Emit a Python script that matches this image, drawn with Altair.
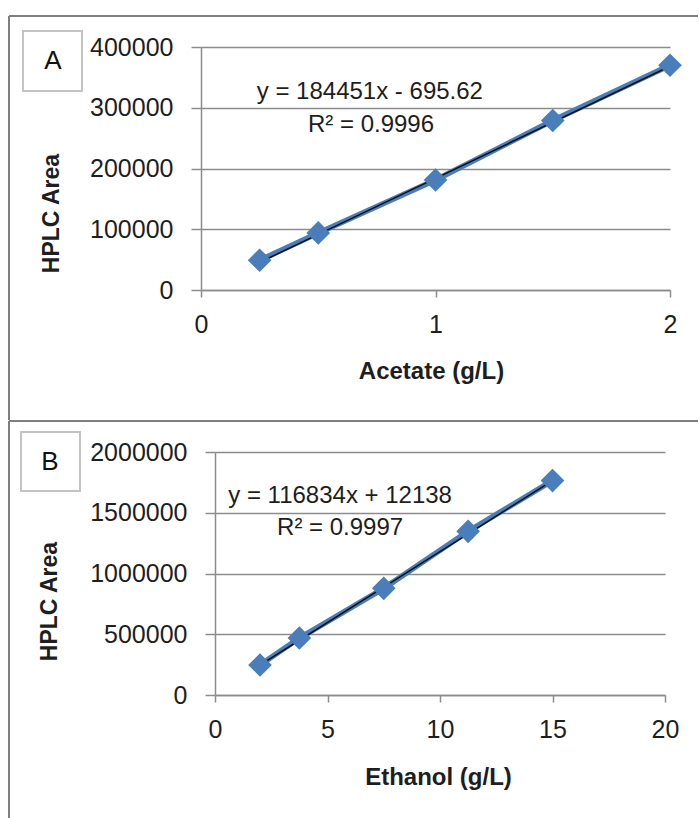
import altair as alt
import pandas as pd

# ---- calibration data -------------------------------------------------------
acetate_conc = [0.25, 0.5, 1.0, 1.5, 2.0]
acetate_area = [49000, 94000, 181000, 279000, 370000]
acetate_slope, acetate_intercept = 184451, -695.62
acetate_text = ["y = 184451x - 695.62", "R\u00b2 = 0.9996"]

ethanol_conc = [2.0, 3.75, 7.5, 11.25, 15.0]
ethanol_area = [247000, 469000, 878000, 1347000, 1765000]
ethanol_slope, ethanol_intercept = 116834, 12138
ethanol_text = ["y = 116834x + 12138", "R\u00b2 = 0.9997"]

acetate_xticks = [0, 1, 2]
acetate_yticks = [0, 100000, 200000, 300000, 400000]
ethanol_xticks = [0, 5, 10, 15, 20]
ethanol_yticks = [0, 500000, 1000000, 1500000, 2000000]

FONT = "Liberation Sans"
BLUE = "#4A7EBB"
GRID = "#8C8C8C"
FRAME = "#7F7F7F"
INK = "#1E1E1E"
PLAIN = "format(datum.value, 'd')"


def panel(letter, conc, area, slope, intercept, eq_text, eq_x, eq_y,
          x_title, x_max, x_ticks, y_max, y_ticks, width, height, x_start,
          y_title_x, y_title_y, x_title_x, x_title_y,
          frame_left, frame_top, frame_right, frame_bottom,
          box, letter_xy):
    pts = pd.DataFrame({"conc": conc, "area": area})
    pts["fit"] = [slope * c + intercept for c in conc]
    ann = pd.DataFrame({"conc": eq_x, "area": eq_y, "label": eq_text})
    one = pd.DataFrame({"k": [0]})

    # the plot region may start a little to the right of the panel origin
    xs = alt.Scale(domain=[0, x_max], range=[x_start, width], nice=False, zero=True)
    ys = alt.Scale(domain=[0, y_max], nice=False, zero=True)

    x_axis = alt.Axis(
        values=x_ticks, labelExpr=PLAIN, grid=False,
        domainColor=GRID, domainWidth=1.5, tickColor=GRID, tickWidth=1.5,
        tickSize=7, labelFont=FONT, labelFontSize=25, labelColor=INK,
        labelPadding=15, labelFlush=False, labelOverlap=False,
        title=x_title, titleFont=FONT, titleFontSize=24,
        titleFontWeight="bold", titleColor=INK, titleX=x_title_x,
        titleY=x_title_y, titleBaseline="alphabetic", titleAlign="center",
    )
    y_axis = alt.Axis(
        values=y_ticks, labelExpr=PLAIN, grid=True,
        gridColor=GRID, gridWidth=1.5, domainColor=GRID, domainWidth=1.5,
        tickColor=GRID, tickWidth=1.5, tickSize=10, offset=-x_start,
        labelFont=FONT, labelFontSize=25, labelColor=INK, labelPadding=18,
        labelOverlap=False, title="HPLC Area", titleFont=FONT,
        titleFontSize=23, titleFontWeight="bold", titleColor=INK,
        titleAngle=270, titleX=y_title_x, titleY=y_title_y,
        titleBaseline="alphabetic", titleAlign="center",
    )

    base = alt.Chart(pts)
    series = base.mark_line(color=BLUE, strokeWidth=5.5).encode(
        x=alt.X("conc:Q", scale=xs, axis=x_axis),
        y=alt.Y("area:Q", scale=ys, axis=y_axis),
    )
    markers = base.mark_point(
        shape="diamond", filled=True, size=560, color=BLUE, opacity=1
    ).encode(x="conc:Q", y="area:Q")
    trend = base.mark_line(color="#111111", strokeWidth=1.6).encode(
        x="conc:Q", y="fit:Q"
    )
    eq = alt.Chart(ann).mark_text(
        font=FONT, fontSize=24, color=INK, align="center", baseline="middle"
    ).encode(x="conc:Q", y="area:Q", text="label:N")

    frame_style = dict(color=FRAME, strokeWidth=2)
    deco = alt.Chart(one)
    top_line = deco.mark_rule(**frame_style).encode(
        x=alt.value(frame_left), x2=alt.value(frame_right),
        y=alt.value(frame_top))
    left_line = deco.mark_rule(**frame_style).encode(
        x=alt.value(frame_left), y=alt.value(frame_top),
        y2=alt.value(frame_bottom))
    letter_box = deco.mark_rect(
        fill="white", stroke="#C3C3C3", strokeWidth=2
    ).encode(x=alt.value(box[0]), x2=alt.value(box[1]),
             y=alt.value(box[2]), y2=alt.value(box[3]))
    letter_mark = deco.mark_text(
        text=letter, font=FONT, fontSize=26, color="#111111",
        align="center", baseline="middle"
    ).encode(x=alt.value(letter_xy[0]), y=alt.value(letter_xy[1]))

    return alt.layer(
        top_line, left_line, letter_box, letter_mark,
        series, trend, markers, eq
    ).properties(width=width, height=height)


panel_a = panel(
    "A", acetate_conc, acetate_area, acetate_slope, acetate_intercept,
    acetate_text, [0.72, 0.725], [326000, 271600],
    "Acetate (g/L)", 2, acetate_xticks, 400000, acetate_yticks, 469, 243, 0,
    -143, 166, 230, 88,
    -192, -31, 497, 373,
    (-178, -119, -16, 44), (-148, 14),
)

panel_b = panel(
    "B", ethanol_conc, ethanol_area, ethanol_slope, ethanol_intercept,
    ethanol_text, [5.56, 5.56], [1638000, 1374000],
    "Ethanol (g/L)", 20, ethanol_xticks, 2000000, ethanol_yticks, 464, 243, 14,
    -159, 149, 237, 89,
    -192, -31, 497, 366,
    (-180, -121, -20, 39), (-151, 10),
)

chart = alt.vconcat(panel_a, panel_b, spacing=-1).properties(
    padding={"left": 8, "top": 15, "right": 0, "bottom": 0},
    background="white",
).configure_view(stroke=None)

chart.save("out.html", embed_options={"renderer": "svg", "actions": False})
